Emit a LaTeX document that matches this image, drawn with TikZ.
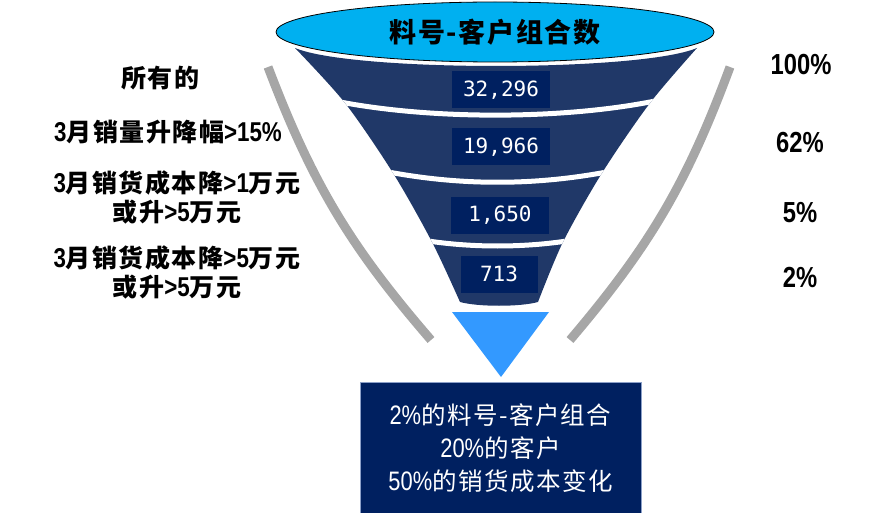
\documentclass[tikz,border=0pt]{standalone}
\usepackage{fontspec}
\usetikzlibrary{shapes.geometric}
\newfontfamily\cjk[LetterSpace=6]{Noto Sans CJK SC}
\newfontfamily\latfont[FakeStretch=0.82, Scale=1.09]{Liberation Sans}
\newfontfamily\numfont{DejaVu Sans Mono}
\newcommand\ltn[1]{{\latfont #1}}
\definecolor{topcyan}{RGB}{0,176,240}
\definecolor{bandblue}{RGB}{32,56,104}
\definecolor{boxblue}{RGB}{0,32,96}
\definecolor{arrowblue}{RGB}{51,153,255}
\definecolor{rimgray}{RGB}{166,166,166}
\begin{document}
\begin{tikzpicture}[
        x=1pt, y=-1pt,
        numbox/.style={fill=boxblue, text=white, minimum width=98pt, minimum height=37pt, inner sep=0pt, font=\numfont\fontsize{21}{24}\selectfont},
        crit/.style={align=center, font=\cjk\bfseries\fontsize{25}{29}\selectfont},
        pct/.style={font=\latfont\bfseries\fontsize{26.6}{30}\selectfont},
        stripe/.style={draw=white, line width=5pt},
        rim/.style={draw=rimgray, line width=9pt}
    ]
    \useasboundingbox (0,0) rectangle (888,513);
    % funnel body with white gaps between the bands
    \begin{scope}
        \clip (295,48) .. controls (352,72) and (640,72) .. (697,48)
            -- plot[smooth] coordinates {(697,48) (650,103) (602,173) (563,242) (538,302)}
            .. controls (520,307) and (478,307) .. (460,302)
            -- plot[smooth] coordinates {(460,302) (432,242) (393,173) (345,103) (295,48)} -- cycle;
        \fill[bandblue] (280,30) rectangle (720,320);
        \draw[stripe] (335,101) .. controls (430,120) and (565,120) .. (660,100);
        \draw[stripe] (383,171) .. controls (460,186) and (535,186) .. (612,171);
        \draw[stripe] (422,240) .. controls (470,248) and (525,248) .. (573,240);
    \end{scope}
    \node[ellipse, draw, line width=0.8pt, fill=topcyan, minimum width=438pt, minimum height=60pt, inner sep=0pt,
        font=\cjk\bfseries\fontsize{27}{30}\selectfont] (title) at (495,32) {料号-客户组合数};
    % counts
    \node[numbox] (n1) at (501,90) {32,296};
    \node[numbox] (n2) at (501,147) {19,966};
    \node[numbox] (n3) at (500,215) {1,650};
    \node[numbox, minimum width=77pt] (n4) at (499,274) {713};
    % side rims
    \draw[rim] (268,67) to[bend right=10] (431,340);
    \draw[rim] (730,67) to[bend left=10] (570,340);
    % arrow and result
    \fill[arrowblue] (452,312) -- (549,312) -- (501,377) -- cycle;
    \node[fill=boxblue, draw={rgb,255:red,140;green,160;blue,200}, minimum width=281pt, minimum height=131pt, anchor=north,
        text=white, align=center, font=\cjk\fontsize{24.5}{33}\selectfont] (result) at (500.5,382)
        {\ltn{2\%}的料号-客户组合\\\ltn{20\%}的客户\\\ltn{50\%}的销货成本变化};
    % criteria
    \node[crit] (c1) at (160,78) {所有的};
    \node[crit] (c2) at (168,132) {\ltn{3}月销量升降幅\ltn{>15\%}};
    \node[crit] (c3) at (177,197) {\ltn{3}月销货成本降\ltn{>1}万元\\或升\ltn{>5}万元};
    \node[crit] (c4) at (177,272) {\ltn{3}月销货成本降\ltn{>5}万元\\或升\ltn{>5}万元};
    % shares
    \node[pct] (p1) at (801,65) {100\%};
    \node[pct] (p2) at (800,143) {62\%};
    \node[pct] (p3) at (800,213) {5\%};
    \node[pct] (p4) at (800,277) {2\%};
\end{tikzpicture}
\end{document}
